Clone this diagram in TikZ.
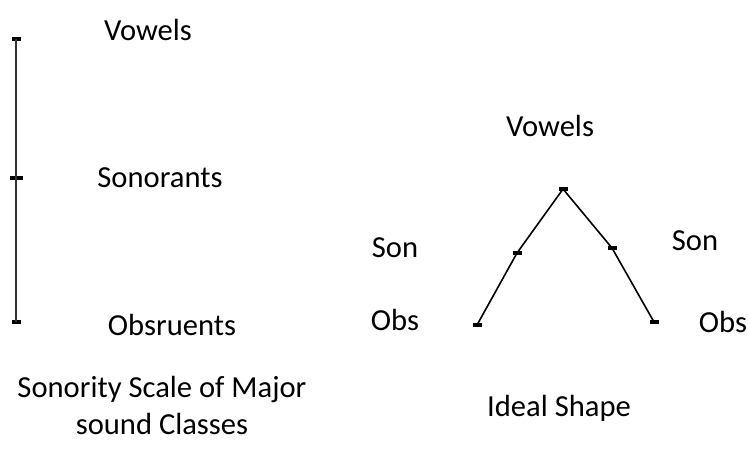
\documentclass[tikz,border=0pt]{standalone}
\usepackage{fontspec}
\setmainfont{Carlito}
\usetikzlibrary{positioning,calc}

\tikzset{
  tickbar/.style={fill=black, inner sep=0pt, minimum width=4.5pt, minimum height=2.4pt},
  lbl/.style={anchor=base, inner sep=0pt, font=\fontsize{15.3pt}{18.5pt}\selectfont}
}

\begin{document}
\begin{tikzpicture}[x=0.5pt,y=-0.5pt]
\useasboundingbox (0,0) rectangle (748,464);
% sonority scale
\node[tickbar] (top) at (16,39) {};
\node[tickbar, minimum width=6.5pt] (mid) at (16,178) {};
\node[tickbar] (bot) at (16,322) {};
\draw[line width=1.1pt, black!80] (top.center) -- (bot.center);
\node[lbl] (vow) at (148,41) {Vowels};
\node[lbl] (sonor) at (160,188) {Sonorants};
\node[lbl] (obstr) at (172,335) {Obsruents};
\node[lbl, align=center] (cap1) at (162,434) {Sonority Scale of Major\\sound Classes};
% ideal shape
\node[tickbar] (apex) at (563,189) {};
\node[tickbar] (sonl) at (517,253) {};
\node[tickbar] (sonr) at (612,248) {};
\node[tickbar] (obsl) at (477,325) {};
\node[tickbar] (obsr) at (654,322) {};
\draw[line width=0.8pt] (obsl.center) -- (sonl.center) -- (apex.center) -- (sonr.center) -- (obsr.center);
\node[lbl] (vowr) at (550,137) {Vowels};
\node[lbl] (sonlt) at (395,257) {Son};
\node[lbl] (obslt) at (395,330) {Obs};
\node[lbl] (sonrt) at (695,251) {Son};
\node[lbl] (obsrt) at (723,332) {Obs};
\node[lbl] (cap2) at (559,416) {Ideal Shape};
\end{tikzpicture}
\end{document}
